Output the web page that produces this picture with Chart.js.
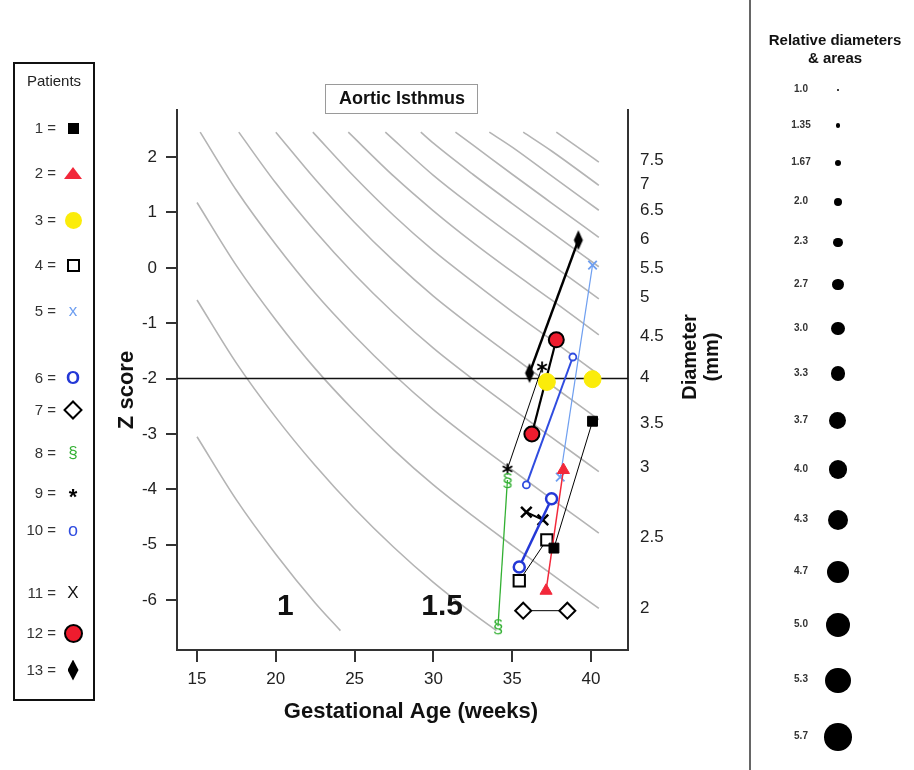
<!DOCTYPE html>
<html>
<head>
<meta charset="utf-8">
<title>Aortic Isthmus</title>
<script src="https://cdn.jsdelivr.net/npm/chart.js@4.4.0/dist/chart.umd.min.js"></script>
<style>
  html, body { margin: 0; padding: 0; background: #fff; }
  body { width: 914px; height: 770px; overflow: hidden; font-family: "Liberation Sans", Arial, sans-serif; }
  #wrap { position: relative; width: 914px; height: 770px; }
  #main { position: absolute; left: 0; top: 0; }
  #patients { position: absolute; left: 13px; top: 62px; width: 82px; height: 639px; border: 2px solid #111; box-sizing: border-box; }
  .ptitle { position: absolute; left: 13px; width: 82px; top: 72px; text-align: center; font-size: 15px; color: #222; }
  .prow { position: absolute; left: 13px; width: 82px; height: 24px; line-height: 24px; font-size: 15px; color: #333; }
  .prow .lab { position: absolute; right: 39px; white-space: nowrap; }
  .prow .key { position: absolute; left: 50px; width: 20px; height: 24px; display: flex; align-items: center; justify-content: center; }
  #sep { position: absolute; left: 749px; top: 0; width: 2px; height: 770px; background: #666; }
  .rtitle { position: absolute; left: 756px; width: 158px; text-align: center; font-weight: bold; font-size: 15px; color: #111; }
  .rrow { position: absolute; left: 780px; width: 110px; height: 30px; }
  .rrow .lab { position: absolute; left: 0; width: 42px; text-align: center; top: 8px; font-size: 10px; font-weight: bold; color: #333; }
  .rrow .dot { position: absolute; border-radius: 50%; background: #000; }
</style>
</head>
<body>
<div id="wrap">
  <canvas id="main" width="914" height="770"></canvas>
  <div id="patients"></div>
  <div class="ptitle">Patients</div>
  <div id="sep"></div>
  <div class="rtitle" style="top:31px">Relative diameters</div>
  <div class="rtitle" style="top:49px">&amp; areas</div>
</div>
<script>
// axes
const xMin = 13.73, xMax = 42.35;
const zMin = -6.9, zMax = 2.85;
const xTicks = [15, 20, 25, 30, 35, 40];
const zTicks = [-6, -5, -4, -3, -2, -1, 0, 1, 2];
const diameterLabels = ['7.5', '7', '6.5', '6', '5.5', '5', '4.5', '4', '3.5', '3', '2.5', '2'];
const diameterLabelZ = [1.95, 1.51, 1.04, 0.52, 0.0, -0.54, -1.23, -1.97, -2.80, -3.60, -4.86, -6.14];
const cutoffZ = -2;

// grey iso-diameter curves (mm)
const curveDiameters = [1, 1.5, 2, 2.5, 3, 3.5, 4, 4.5, 5, 5.5, 6, 6.5, 7, 7.5];
const curveGA = [
  [15, 17.5, 20, 22.5, 24.1],
  [15, 17.5, 20, 22.5, 25, 27.5, 30, 32.5, 34.0],
  [15, 17.5, 20, 22.5, 25, 27.5, 30, 32.5, 35, 37.5, 40.5],
  [15.2, 17.5, 20, 22.5, 25, 27.5, 30, 32.5, 35, 37.5, 40.5],
  [17.65, 20, 22.5, 25, 27.5, 30, 32.5, 35, 37.5, 40.5],
  [20.0, 22.5, 25, 27.5, 30, 32.5, 35, 37.5, 40.5],
  [22.35, 25, 27.5, 30, 32.5, 35, 37.5, 40.5],
  [24.6, 27.5, 30, 32.5, 35, 37.5, 40.5],
  [26.95, 30, 32.5, 35, 37.5, 40.5],
  [29.2, 30, 32.5, 35, 37.5, 40.5],
  [31.4, 32.5, 35, 37.5, 40.5],
  [33.55, 35, 37.5, 40.5],
  [35.7, 37.5, 40.5],
  [37.8, 40.5]
];
const curveZ = [
  [-3.05, -4.19, -5.17, -6.05, -6.55],
  [-0.58, -1.72, -2.70, -3.57, -4.35, -5.05, -5.68, -6.24, -6.55],
  [1.18, 0.04, -0.94, -1.82, -2.59, -3.29, -3.92, -4.48, -5.01, -5.53, -6.15],
  [2.45, 1.40, 0.42, -0.46, -1.23, -1.93, -2.56, -3.12, -3.65, -4.17, -4.79],
  [2.45, 1.53, 0.66, -0.12, -0.82, -1.45, -2.01, -2.54, -3.06, -3.68],
  [2.45, 1.60, 0.82, 0.12, -0.51, -1.07, -1.60, -2.12, -2.74],
  [2.45, 1.64, 0.94, 0.31, -0.25, -0.79, -1.30, -1.93],
  [2.45, 1.65, 1.03, 0.46, -0.07, -0.58, -1.21],
  [2.45, 1.67, 1.11, 0.58, 0.06, -0.56],
  [2.45, 2.25, 1.69, 1.16, 0.64, 0.02],
  [2.45, 2.22, 1.69, 1.17, 0.55],
  [2.45, 2.18, 1.66, 1.04],
  [2.45, 2.11, 1.49],
  [2.45, 1.91]
];
const curveLabelText = ['1', '1.5'];
const curveLabelGA = [20.6, 30.55];
const curveLabelZ = [-6.12, -6.12];

// patients: two scans each (gestational age, z score)
const patientIds = ['1', '2', '3', '4', '5', '6', '7', '8', '9', '10', '11', '12', '13'];
const patientGA = [
  [40.1, 37.65], [38.25, 37.15], [37.2, 40.1], [37.2, 35.45], [40.1, 38.05],
  [37.5, 35.45], [35.7, 38.5], [34.7, 34.1], [34.7, 36.9], [35.9, 38.85],
  [35.9, 36.95], [36.25, 37.8], [36.1, 39.2]
];
const patientZ = [
  [-2.77, -5.06], [-3.65, -5.83], [-2.06, -2.01], [-4.91, -5.65], [0.05, -3.78],
  [-4.17, -5.40], [-6.19, -6.19], [-3.83, -6.47], [-3.63, -1.79], [-3.92, -1.61],
  [-4.41, -4.55], [-3.0, -1.30], [-1.90, 0.50]
];

// right legend
const relLabels = ['1.0', '1.35', '1.67', '2.0', '2.3', '2.7', '3.0', '3.3', '3.7', '4.0', '4.3', '4.7', '5.0', '5.3', '5.7'];
const relDiam = [1.0, 1.35, 1.67, 2.0, 2.3, 2.7, 3.0, 3.3, 3.7, 4.0, 4.3, 4.7, 5.0, 5.3, 5.7];

const FONT = '"Liberation Sans", Arial, sans-serif';

function glyphCanvas(w, h, draw) {
  const c = document.createElement('canvas');
  c.width = w; c.height = h;
  draw(c.getContext('2d'), w, h);
  return c;
}
const sectionMark = glyphCanvas(14, 22, (g, w, h) => {
  g.fillStyle = '#33b033';
  g.font = '19px ' + FONT;
  g.textAlign = 'center'; g.textBaseline = 'middle';
  g.fillText('§', w / 2, h / 2 + 1);
});
const asterisk = glyphCanvas(14, 14, (g, w, h) => {
  g.strokeStyle = '#000'; g.lineWidth = 1.8;
  for (let k = 0; k < 3; k++) {
    const a = Math.PI / 2 + k * Math.PI / 3;
    g.beginPath();
    g.moveTo(w / 2 + 5.5 * Math.cos(a), h / 2 + 5.5 * Math.sin(a));
    g.lineTo(w / 2 - 5.5 * Math.cos(a), h / 2 - 5.5 * Math.sin(a));
    g.stroke();
  }
});
const tallDiamond = glyphCanvas(12, 22, (g, w, h) => {
  g.fillStyle = '#000';
  g.beginPath();
  g.moveTo(w / 2, 1); g.lineTo(w - 1.5, h / 2); g.lineTo(w / 2, h - 1); g.lineTo(1.5, h / 2);
  g.closePath(); g.fill();
});

const patientLook = [
  { pointStyle: 'rect', pointRadius: 7, pointBackgroundColor: '#000', pointBorderColor: '#000', pointBorderWidth: 1, borderColor: '#000', borderWidth: 1 },
  { pointStyle: 'triangle', pointRadius: 7, pointBackgroundColor: '#f2283a', pointBorderColor: '#f2283a', pointBorderWidth: 1, borderColor: '#f2283a', borderWidth: 1.5 },
  { pointStyle: 'circle', pointRadius: 8.5, pointBackgroundColor: '#fbec0a', pointBorderColor: '#fbec0a', pointBorderWidth: 1, borderColor: '#fbec0a', borderWidth: 0, showLine: false },
  { pointStyle: 'rect', pointRadius: 8, pointBackgroundColor: '#fff', pointBorderColor: '#000', pointBorderWidth: 2, borderColor: '#000', borderWidth: 1 },
  { pointStyle: 'crossRot', pointRadius: 6, pointBorderColor: '#6f9ff0', pointBorderWidth: 1.8, borderColor: '#6f9ff0', borderWidth: 1.2 },
  { pointStyle: 'circle', pointRadius: 5.5, pointBackgroundColor: '#fff', pointBorderColor: '#2438d6', pointBorderWidth: 2.5, borderColor: '#2438d6', borderWidth: 2.5 },
  { pointStyle: 'rectRot', pointRadius: 8, pointBackgroundColor: '#fff', pointBorderColor: '#000', pointBorderWidth: 2, borderColor: '#000', borderWidth: 1 },
  { pointStyle: sectionMark, pointRadius: 6, borderColor: '#33b033', borderWidth: 1.3 },
  { pointStyle: asterisk, pointRadius: 6, borderColor: '#000', borderWidth: 1 },
  { pointStyle: 'circle', pointRadius: 3.5, pointBackgroundColor: '#fff', pointBorderColor: '#2f4ce0', pointBorderWidth: 1.8, borderColor: '#2f4ce0', borderWidth: 2 },
  { pointStyle: 'crossRot', pointRadius: 7.5, pointBorderColor: '#000', pointBorderWidth: 2.5, borderColor: '#000', borderWidth: 2 },
  { pointStyle: 'circle', pointRadius: 7.5, pointBackgroundColor: '#ee1c2e', pointBorderColor: '#000', pointBorderWidth: 2, borderColor: '#000', borderWidth: 2.2 },
  { pointStyle: tallDiamond, pointRadius: 6, borderColor: '#000', borderWidth: 2.5 }
];

const datasets = [];
patientIds.forEach((id, i) => {
  datasets.push(Object.assign({
    label: 'Patient ' + id,
    data: patientGA[i].map((g, j) => ({ x: g, y: patientZ[i][j] })),
    showLine: true,
    order: 0
  }, patientLook[i]));
});
datasets.push({
  label: 'z = -2',
  data: [{ x: xMin, y: cutoffZ }, { x: xMax, y: cutoffZ }],
  showLine: true, borderColor: '#111', borderWidth: 1.5, pointRadius: 0, order: 5
});
curveDiameters.forEach((d, i) => {
  datasets.push({
    label: d + ' mm',
    data: curveGA[i].map((g, j) => ({ x: g, y: curveZ[i][j] })),
    showLine: true, borderColor: '#b4b4b4', borderWidth: 1.6, pointRadius: 0,
    cubicInterpolationMode: 'monotone', order: 10
  });
});

const annotate = {
  id: 'annotate',
  afterDatasetsDraw(chart) {
    const { ctx, scales: { x, y } } = chart;
    ctx.save();
    ctx.fillStyle = '#111';
    ctx.font = 'bold 30px ' + FONT;
    ctx.textAlign = 'center';
    ctx.textBaseline = 'middle';
    curveLabelText.forEach((t, i) => {
      ctx.fillText(t, x.getPixelForValue(curveLabelGA[i]), y.getPixelForValue(curveLabelZ[i]));
    });
    ctx.restore();
  },
  afterDraw(chart) {
    const ctx = chart.ctx;
    ctx.save();
    // title box
    ctx.strokeStyle = '#9a9a9a';
    ctx.lineWidth = 1;
    ctx.strokeRect(325.5, 84.5, 152, 29);
    ctx.fillStyle = '#111';
    ctx.textAlign = 'center';
    ctx.textBaseline = 'middle';
    ctx.font = 'bold 18px ' + FONT;
    ctx.fillText('Aortic Isthmus', 402, 99);
    // axis titles
    ctx.font = 'bold 22px ' + FONT;
    ctx.fillText('Gestational Age (weeks)', 411, 712);
    ctx.save();
    ctx.translate(127, 390);
    ctx.rotate(-Math.PI / 2);
    ctx.fillText('Z score', 0, 0);
    ctx.restore();
    ctx.font = 'bold 20px ' + FONT;
    ctx.save();
    ctx.translate(690, 357);
    ctx.rotate(-Math.PI / 2);
    ctx.fillText('Diameter', 0, 0);
    ctx.restore();
    ctx.save();
    ctx.translate(712, 357);
    ctx.rotate(-Math.PI / 2);
    ctx.fillText('(mm)', 0, 0);
    ctx.restore();
    ctx.restore();
  }
};

new Chart(document.getElementById('main'), {
  type: 'scatter',
  data: { datasets: datasets },
  options: {
    responsive: false,
    animation: false,
    devicePixelRatio: 1,
    layout: { padding: { left: 100, right: 186, top: 110, bottom: 40 } },
    plugins: { legend: { display: false }, tooltip: { enabled: false } },
    scales: {
      x: {
        type: 'linear', position: 'bottom', min: xMin, max: xMax,
        afterBuildTicks: (s) => { s.ticks = xTicks.map(v => ({ value: v })); },
        afterFit: (s) => { s.height = 80; },
        ticks: { autoSkip: false, maxRotation: 0, padding: 7, color: '#222', font: { family: FONT, size: 17 } },
        grid: { drawOnChartArea: false, drawTicks: true, tickLength: 12, color: '#333', lineWidth: 2 },
        border: { display: true, color: '#333', width: 2 }
      },
      y: {
        type: 'linear', position: 'left', min: zMin, max: zMax,
        afterBuildTicks: (s) => { s.ticks = zTicks.map(v => ({ value: v })); },
        afterFit: (s) => { s.width = 77; },
        ticks: { autoSkip: false, padding: 9, color: '#222', font: { family: FONT, size: 17 } },
        grid: { drawOnChartArea: false, drawTicks: true, tickLength: 11, color: '#333', lineWidth: 2 },
        border: { display: true, color: '#333', width: 2 }
      },
      yr: {
        type: 'linear', position: 'right', min: zMin, max: zMax,
        afterBuildTicks: (s) => { s.ticks = diameterLabelZ.map(v => ({ value: v })); },
        afterFit: (s) => { s.width = 100; },
        ticks: { autoSkip: false, padding: 12, color: '#222', font: { family: FONT, size: 17 },
                 callback: (value, index) => diameterLabels[index] },
        grid: { drawOnChartArea: false, drawTicks: false },
        border: { display: true, color: '#333', width: 2 }
      }
    }
  },
  plugins: [annotate]
});

// left legend: patient keys
const legendRowY = [128, 173, 220, 265, 311, 378, 410, 453, 493, 530, 593, 633, 670];
const patientKeyHtml = [
  '<span style="display:inline-block;width:11px;height:11px;background:#000"></span>',
  '<span style="display:inline-block;width:0;height:0;border-left:9px solid transparent;border-right:9px solid transparent;border-bottom:12px solid #f2283a"></span>',
  '<span style="display:inline-block;width:17px;height:17px;border-radius:50%;background:#fbec0a"></span>',
  '<span style="display:inline-block;width:9px;height:9px;border:2.5px solid #000"></span>',
  '<span style="color:#6f9ff0;font-size:17px">x</span>',
  '<span style="color:#2438d6;font-size:18px;font-weight:bold">O</span>',
  '<span style="display:inline-block;width:10px;height:10px;border:2.5px solid #000;transform:rotate(45deg)"></span>',
  '<span style="color:#33b033;font-size:17px">§</span>',
  '<span style="color:#000;font-size:22px;font-weight:bold;position:relative;top:4px">*</span>',
  '<span style="color:#2f4ce0;font-size:18px">o</span>',
  '<span style="color:#111;font-size:17px">X</span>',
  '<span style="display:inline-block;width:15px;height:15px;border-radius:50%;background:#ee1c2e;border:2px solid #000"></span>',
  '<span style="display:inline-block;width:11px;height:21px;background:#000;clip-path:polygon(50% 0,100% 50%,50% 100%,0 50%)"></span>'
];
const wrap = document.getElementById('wrap');
patientIds.forEach((id, i) => {
  const row = document.createElement('div');
  row.className = 'prow';
  row.style.top = (legendRowY[i] - 12) + 'px';
  row.innerHTML = '<span class="lab">' + id + ' =</span><span class="key">' + patientKeyHtml[i] + '</span>';
  wrap.appendChild(row);
});

// right legend: relative diameters
const dotSize = relDiam.map(v => 5.3 * v - 2.6);
let cy = 90;
relLabels.forEach((t, i) => {
  const d = dotSize[i];
  const row = document.createElement('div');
  row.className = 'rrow';
  row.style.top = (cy - 15) + 'px';
  row.innerHTML = '<span class="lab">' + t + '</span>' +
    '<span class="dot" style="width:' + d + 'px;height:' + d + 'px;left:' + (58 - d / 2) + 'px;top:' + (15 - d / 2) + 'px"></span>';
  wrap.appendChild(row);
  if (i < relLabels.length - 1) cy += 32.4 + 0.917 * (d + dotSize[i + 1]) / 2;
});
</script>
</body>
</html>
